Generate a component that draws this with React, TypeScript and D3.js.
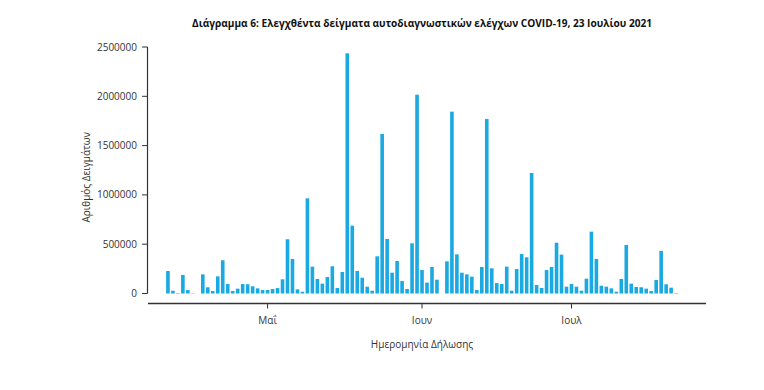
import React from 'react';
import * as d3 from 'd3';

// daily self-test samples, starting 11 April 2021
const firstDay = new Date(2021, 3, 11);
const samples = [
  228000, 28000, 5000, 188000, 35000, 3000, 0, 194000, 63000, 25000,
  174000, 337000, 96000, 25000, 49000, 96000, 94000, 73000, 52000, 35000,
  35000, 45000, 55000, 144000, 550000, 350000, 42000, 18000, 965000, 272000,
  147000, 100000, 167000, 276000, 56000, 218000, 2436000, 688000, 228000, 160000,
  69000, 28000, 377000, 1618000, 553000, 211000, 330000, 127000, 46000, 509000,
  2016000, 238000, 110000, 269000, 140000, 0, 326000, 1844000, 397000, 211000,
  194000, 171000, 35000, 269000, 1770000, 255000, 106000, 96000, 272000, 28000,
  248000, 400000, 367000, 1222000, 86000, 56000, 238000, 269000, 515000, 394000,
  69000, 96000, 69000, 28000, 150000, 627000, 350000, 79000, 69000, 52000,
  18000, 147000, 492000, 100000, 66000, 63000, 49000, 25000, 137000, 431000,
  93000, 59000, 5000,
];
const monthTicks = [new Date(2021, 4, 1), new Date(2021, 5, 1), new Date(2021, 6, 1)];
const monthLabels = ['Μαΐ', 'Ιουν', 'Ιουλ'];
const yTicks = [0, 500000, 1000000, 1500000, 2000000, 2500000];

const title = 'Διάγραμμα 6: Ελεγχθέντα δείγματα αυτοδιαγνωστικών ελέγχων COVID-19, 23 Ιουλίου 2021';

export default function App() {
  const width = 764;
  const height = 390;
  const font = '"Open Sans", "Noto Sans", sans-serif';

  const x = d3.scaleTime()
    .domain([new Date(2021, 3, 7), new Date(2021, 6, 28)])
    .range([148, 706]);
  const y = d3.scaleLinear().domain([0, 2500000]).range([293.5, 47]);

  const days = samples.map((v, i) => ({ date: d3.timeDay.offset(firstDay, i), value: v }));
  const barW = 3.6;
  const axisY = 303.5;

  return (
    <svg width={width} height={height}
      style={{ position: 'absolute', left: 0, top: 0, background: '#fff' }}
      fontFamily={font}>
      <text x={422} y={27} textAnchor="middle" fontSize={10.5} fontWeight="bold" fill="#111"
        textLength={460} lengthAdjust="spacingAndGlyphs">
        {title}
      </text>

      {/* bars */}
      {days.map((d, i) => d.value > 0 && (
        <rect key={i} x={x(d.date) - barW / 2} y={y(d.value)} width={barW}
          height={y(0) - y(d.value)} fill="#1aa9e1" />
      ))}

      {/* y axis */}
      <line x1={147.5} x2={147.5} y1={y(0)} y2={y(2500000)} stroke="#333" strokeWidth={1.2} />
      {yTicks.map(t => (
        <g key={t} transform={`translate(0,${y(t)})`}>
          <line x1={142} x2={147.5} stroke="#333" strokeWidth={1} />
          <text x={137} dy="0.35em" textAnchor="end" fontSize={10} fill="#333">{t}</text>
        </g>
      ))}
      <text transform={`translate(90,${(y(0) + y(2500000)) / 2 + 7}) rotate(-90)`}
        textAnchor="middle" fontSize={10} fill="#333">Αριθμός Δειγμάτων</text>

      {/* x axis */}
      <line x1={x.range()[0]} x2={x.range()[1]} y1={axisY} y2={axisY} stroke="#333" strokeWidth={1.6} />
      {monthTicks.map((t, i) => (
        <g key={i} transform={`translate(${x(t)},0)`}>
          <line y1={axisY} y2={axisY + 5} stroke="#333" strokeWidth={1} />
          <text y={324} textAnchor="middle" fontSize={10} fill="#333">{monthLabels[i]}</text>
        </g>
      ))}
      <text x={422} y={348} textAnchor="middle" fontSize={10} fill="#333">Ημερομηνία Δήλωσης</text>
    </svg>
  );
}
